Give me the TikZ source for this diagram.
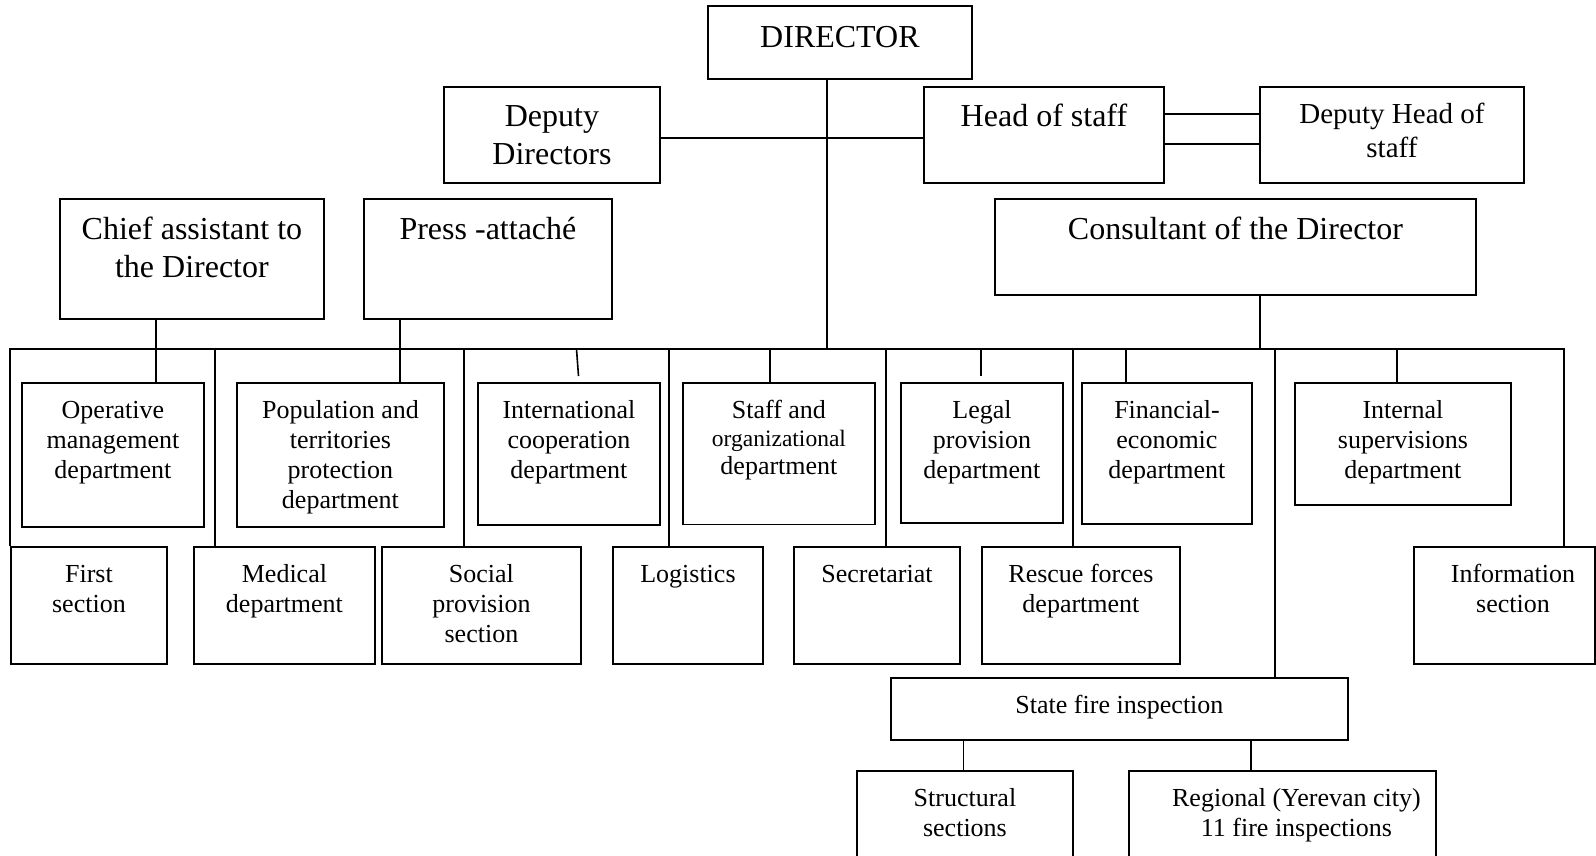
\documentclass[tikz,border=0pt]{standalone}
\usepackage{fontspec}
\setmainfont{Liberation Serif}
\newcommand\tstr{\rule{0pt}{0.8em}}
\begin{document}
\begin{tikzpicture}[x=1pt,y=-1pt,
  box/.style={draw, line width=1.9pt, inner sep=0pt, anchor=north west},
  con/.style={line width=1.6pt},
  sm/.style={font=\fontsize{26}{30}\selectfont, align=center, anchor=north, inner sep=0pt},
  lg/.style={font=\fontsize{32}{38}\selectfont, align=center, anchor=north, inner sep=0pt},
  md/.style={font=\fontsize{29}{34}\selectfont, align=center, anchor=north, inner sep=0pt}]
\useasboundingbox (0,0) rectangle (1596,855);
\clip (0,0) rectangle (1596,855);
% top boxes
\node[box, minimum width=264pt, minimum height=73pt] (dir) at (707,5) {};
\node[box, minimum width=216pt, minimum height=96pt] (depdir) at (443,86) {};
\node[box, minimum width=240pt, minimum height=96pt] (head) at (923,86) {};
\node[box, minimum width=264pt, minimum height=96pt] (dephead) at (1259,86) {};
\node[box, minimum width=264pt, minimum height=120pt] (chief) at (59,198) {};
\node[box, minimum width=248pt, minimum height=120pt] (press) at (363,198) {};
\node[box, minimum width=481pt, minimum height=96pt] (cons) at (994,198) {};
% row 1
\node[box, minimum width=182pt, minimum height=144pt] (oper) at (21,382) {};
\node[box, minimum width=207pt, minimum height=144pt] (pop) at (236,382) {};
\node[box, minimum width=182pt, minimum height=142pt] (intl) at (477,382) {};
\node[box, minimum width=192pt, minimum height=141.5pt] (staff) at (682,382) {};
\node[box, minimum width=162pt, minimum height=140pt] (legal) at (900,382) {};
\node[box, minimum width=170pt, minimum height=141pt] (fin) at (1081,382) {};
\node[box, minimum width=216pt, minimum height=122pt] (internal) at (1294,382) {};
% row 2
\node[box, minimum width=156pt, minimum height=117pt] (first) at (10,546) {};
\node[box, minimum width=181pt, minimum height=117pt] (med) at (193,546) {};
\node[box, minimum width=199pt, minimum height=117pt] (social) at (381,546) {};
\node[box, minimum width=150pt, minimum height=117pt] (logi) at (612,546) {};
\node[box, minimum width=166pt, minimum height=117pt] (secr) at (793,546) {};
\node[box, minimum width=198pt, minimum height=117pt] (rescue) at (981,546) {};
\node[box, minimum width=181pt, minimum height=117pt] (info) at (1413,546) {};
% fire inspection
\node[box, minimum width=457pt, minimum height=62pt] (sfi) at (890,677) {};
\node[box, minimum width=216pt, minimum height=90pt] (struct) at (856,770) {};
\node[box, minimum width=307pt, minimum height=90pt] (regional) at (1128,770) {};
% texts (first line baseline = anchor + 0.8em)
\node[lg] (dirT) at ([yshift=-16.4pt]dir.north) {\tstr DIRECTOR};
\node[lg] (depdirT) at ([yshift=-14.9pt]depdir.north) {\tstr Deputy\\Directors};
\node[lg] (headT) at ([yshift=-14.9pt]head.north) {\tstr Head of staff};
\node[md] (depheadT) at ([yshift=-13.8pt]dephead.north) {\tstr Deputy Head of\\staff};
\node[lg] (chiefT) at ([yshift=-15.9pt]chief.north) {\tstr Chief assistant to\\the Director};
\node[lg] (pressT) at ([yshift=-15.9pt]press.north) {\tstr Press -attach\'e};
\node[lg] (consT) at ([yshift=-15.9pt]cons.north) {\tstr Consultant of the Director};
\node[sm] (operT) at ([yshift=-15.2pt]oper.north) {\tstr Operative\\management\\department};
\node[sm] (popT) at ([yshift=-15.2pt]pop.north) {\tstr Population and\\territories\\protection\\department};
\node[sm] (intlT) at ([yshift=-15.2pt]intl.north) {\tstr International\\cooperation\\department};
\node[sm, font=\fontsize{26}{28.3}\selectfont] (staffT) at ([yshift=-15.2pt]staff.north) {\tstr Staff and\\{\fontsize{23.5}{28}\selectfont organizational}\\department};
\node[sm] (legalT) at ([yshift=-15.2pt]legal.north) {\tstr Legal\\provision\\department};
\node[sm] (finT) at ([yshift=-15.2pt]fin.north) {\tstr Financial-\\economic\\department};
\node[sm] (internalT) at ([yshift=-15.2pt]internal.north) {\tstr Internal\\supervisions\\department};
\node[sm] (firstT) at ([yshift=-15.2pt]first.north) {\tstr First\\section};
\node[sm] (medT) at ([yshift=-15.2pt]med.north) {\tstr Medical\\department};
\node[sm] (socialT) at ([yshift=-15.2pt]social.north) {\tstr Social\\provision\\section};
\node[sm] (logiT) at ([yshift=-15.2pt]logi.north) {\tstr Logistics};
\node[sm] (secrT) at ([yshift=-15.2pt]secr.north) {\tstr Secretariat};
\node[sm] (rescueT) at ([yshift=-15.2pt]rescue.north) {\tstr Rescue forces\\department};
\node[sm] (infoT) at ([yshift=-15.2pt, xshift=8.5pt]info.north) {\tstr Information\\section};
\node[sm] (sfiT) at ([yshift=-15.2pt]sfi.north) {\tstr State fire inspection};
\node[sm] (structT) at ([yshift=-15.2pt]struct.north) {\tstr Structural\\sections};
\node[sm] (regionalT) at ([yshift=-15.2pt, xshift=14pt]regional.north) {\tstr Regional (Yerevan city)\\11 fire inspections};
% connectors
\coordinate (busL) at (10,349);
\coordinate (busR) at (1564,349);
\draw[con, line width=1.9pt] (first.north west) -- (busL) -- (busR) -- (info.north -| busR);
\draw[con] ([xshift=-13pt]dir.south) -- ([xshift=-13pt]dir.south |- busL);
\draw[con] ([yshift=-3pt]depdir.east) -- ([yshift=-3pt]head.west);
\draw[con] ([yshift=21pt]head.east) -- ([yshift=21pt]dephead.west);
\draw[con] ([yshift=-9pt]head.east) -- ([yshift=-9pt]dephead.west);
\draw[con] ([xshift=-36pt]chief.south) -- ([xshift=-36pt]chief.south |- oper.north);
\draw[con] ([xshift=-88pt]press.south) -- ([xshift=-88pt]press.south |- pop.north);
\draw[con] ([xshift=24.5pt]cons.south) -- ([xshift=24.5pt]cons.south |- busL);
\draw[con] ([xshift=-69.5pt]med.north) -- ([xshift=-69.5pt]med.north |- busL);
\draw[con] ([xshift=-17.5pt]social.north) -- ([xshift=-17.5pt]social.north |- busL);
\coordinate (intlB) at (576.5,349);
\coordinate (intlE) at (578.5,376);
\draw[con] (intlB) -- (intlE);
\draw[con] ([xshift=-19pt]logi.north) -- ([xshift=-19pt]logi.north |- busL);
\draw[con] ([xshift=-9pt]staff.north) -- ([xshift=-9pt]staff.north |- busL);
\draw[con] ([xshift=9pt]secr.north) -- ([xshift=9pt]secr.north |- busL);
\coordinate (legalB) at (981,349);
\coordinate (legalE) at (981,376);
\draw[con] (legalB) -- (legalE);
\draw[con] ([xshift=-8pt]rescue.north) -- ([xshift=-8pt]rescue.north |- busL);
\draw[con] ([xshift=-41pt]fin.north) -- ([xshift=-41pt]fin.north |- busL);
\draw[con] ([xshift=155.5pt]sfi.north) -- ([xshift=155.5pt]sfi.north |- busL);
\draw[con] ([xshift=-6pt]internal.north) -- ([xshift=-6pt]internal.north |- busL);
\draw[con] ([xshift=-156pt]sfi.south) -- ([xshift=-156pt]sfi.south |- struct.north);
\draw[con] ([xshift=131.5pt]sfi.south) -- ([xshift=131.5pt]sfi.south |- regional.north);
\end{tikzpicture}
\end{document}
